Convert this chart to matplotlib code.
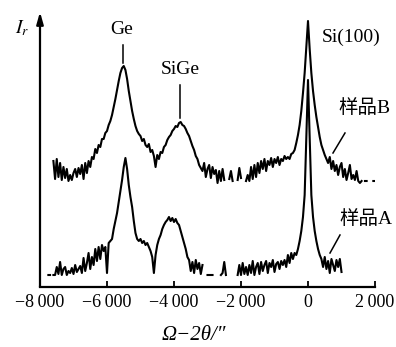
import numpy as np
import matplotlib
matplotlib.use('Agg')
import matplotlib.pyplot as plt

plt.rcParams['font.family'] = ['Liberation Serif', 'Noto Sans CJK SC', 'DejaVu Serif']
plt.rcParams['mathtext.fontset'] = 'stix'

# omega-2theta scan, arcsec, one value every 50"
B_START, B_STOP = -7600, 2000
A_START, A_STOP = -7750, 1000
STEP = 50
nan = np.nan

# intensity above each curve's own baseline (arbitrary units)
sample_b = [
    22, 4, 24, 6, 20, 3, 16, 5, 14, 2,
    8, 3, 10, 14, 6, 15, 9, 18, 4, 20,
    10, 22, 16, 26, 24, 34, 30, 38, 36, 44,
    44, 50, 52, 58, 62, 68, 76, 84, 93, 102,
    110, 115, 117, 113, 104, 92, 82, 72, 64, 57,
    52, 49, 47, 42, 44, 38, 36, 39, 31, 33,
    27, 16, 28, 24, 31, 30, 36, 38, 43, 46,
    48, 52, 54, 57, 56, 60, 61, 58, 57, 54,
    50, 47, 42, 37, 33, 27, 24, 18, 15, 12,
    20, 6, 14, 18, 5, 16, 9, 13, 0, 12,
    2, 14, 3, nan, nan, 4, 12, 2, nan, nan,
    3, 15, 5, nan, nan, 2, 8, 2, 16, 4,
    18, 6, 20, 10, 22, 14, 24, 12, 22, 18,
    25, 16, 24, 20, 26, 18, 24, 22, 27, 24,
    26, 24, 29, 30, 33, 40, 48, 58, 72, 90,
    110, 136, 162, 134, 110, 92, 78, 66, 56, 46,
    38, 33, 28, 24, 20, 26, 14, 22, 12, 18,
    8, 16, 20, 6, 14, 3, 10, 18, 4, 8,
    3, 12, 2, 0, 2, nan, 2, 2, nan, nan,
    nan, 2, 2,
]

sample_a = [
    2, 2, nan, 2, 2, 10, 3, 15, 2, 8,
    10, 2, 6, 4, 9, 3, 12, 5, 8, 11,
    4, 19, 6, 14, 24, 8, 20, 12, 28, 16,
    30, 18, 32, 26, 30, 4, 34, 36, 38, 48,
    56, 64, 75, 86, 97, 110, 119, 108, 92, 80,
    70, 56, 44, 38, 36, 38, 34, 36, 32, 34,
    30, 26, 20, 4, 22, 32, 38, 42, 48, 52,
    55, 57, 60, 56, 59, 55, 58, 54, 52, 46,
    40, 34, 28, 20, 17, 6, 15, 4, 17, 8,
    14, 3, 12, nan, nan, 2, 2, 2, 2, nan,
    nan, nan, nan, 2, 4, 15, 2, nan, nan, nan,
    nan, nan, nan, 2, 12, 2, 14, 3, 10, 2,
    12, 4, 16, 2, 10, 14, 3, 15, 6, 12,
    16, 4, 14, 10, 17, 5, 13, 15, 8, 16,
    12, 17, 10, 22, 14, 24, 18, 24, 22, 28,
    36, 46, 60, 82, 140, 197, 140, 82, 60, 46,
    36, 28, 22, 18, 10, 20, 8, 16, 4, 18,
    12, 6, 17, 10, 18, 5,
]

x_ticks = [-8000, -6000, -4000, -2000, 0, 2000]
x_tick_labels = ['\u22128\u2009000', '\u22126\u2009000', '\u22124\u2009000',
                 '\u22122\u2009000', '0', '2\u2009000']

# vertical offsets of the two curves on the plot
A_OFFSET = 10
B_OFFSET = 104

x_b = np.arange(B_START, B_STOP + 1, STEP)
x_a = np.arange(A_START, A_STOP + 1, STEP)

fig = plt.figure(figsize=(3.96, 3.47), dpi=100)
ax = fig.add_axes([40 / 396, 60 / 347, 335 / 396, 275 / 347])

ax.plot(x_b, np.array(sample_b) + B_OFFSET, color='black', lw=1.5)
ax.plot(x_a, np.array(sample_a) + A_OFFSET, color='black', lw=1.5)

ax.set_xlim(-8000, 2000)
ax.set_ylim(0, 275)
ax.set_xticks(x_ticks)
ax.set_xticklabels(x_tick_labels, fontsize=13)
ax.set_yticks([])
ax.tick_params(axis='x', direction='in', length=4, width=1.3, pad=5)

for side in ['top', 'right', 'left']:
    ax.spines[side].set_visible(False)
ax.spines['bottom'].set_linewidth(1.6)

# y axis with an arrow head
ax.annotate('', xy=(0, 1), xycoords='axes fraction', xytext=(0, 0),
            arrowprops=dict(arrowstyle='-|>,head_length=0.7,head_width=0.2',
                            lw=1.6, color='black', shrinkA=0, shrinkB=0))

# peak labels
ax.text(-5550, 257, 'Ge', fontsize=14, ha='center', va='center')
ax.plot([-5537, -5537], [242, 224], color='black', lw=1.1)
ax.text(-3820, 217, 'SiGe', fontsize=14, ha='center', va='center')
ax.plot([-3820, -3820], [202, 169], color='black', lw=1.1)
ax.text(1280, 250, 'Si(100)', fontsize=14, ha='center', va='center')
ax.text(1700, 179, '样品B', fontsize=14, ha='center', va='center')
ax.plot([1104, 746], [154, 134], color='black', lw=1.1, clip_on=False)
ax.text(1730, 68, '样品A', fontsize=14, ha='center', va='center')
ax.plot([955, 657], [52, 34], color='black', lw=1.1, clip_on=False)

fig.text(22 / 396, 1 - 28 / 347, r'$I_r$', fontsize=14, ha='center', va='center')
fig.text(194 / 396, 1 - 335 / 347, 'Ω\u22122θ/″', fontsize=15, style='italic',
         ha='center', va='center')

fig.savefig('out.png', dpi=100)
